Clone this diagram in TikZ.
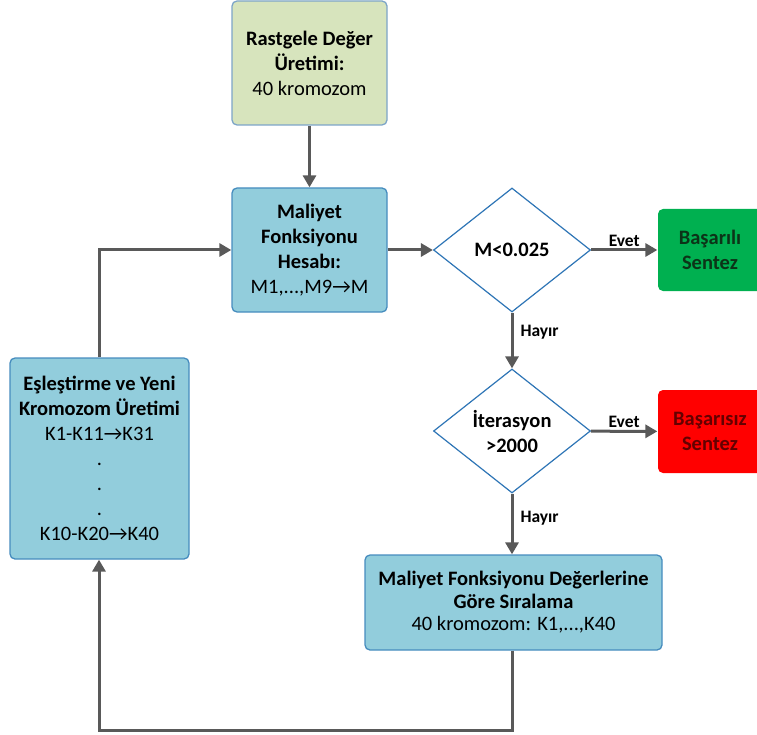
\documentclass[tikz,border=0pt]{standalone}
\usepackage{fontspec}
\setmainfont{Carlito}
\usetikzlibrary{shapes.geometric,arrows.meta}
\definecolor{greenfill}{RGB}{215,228,189}
\definecolor{greenline}{RGB}{125,165,200}
\definecolor{bluefill}{RGB}{146,205,220}
\definecolor{blueline}{RGB}{70,140,190}
\definecolor{decline}{RGB}{46,117,182}
\definecolor{arrowgray}{RGB}{89,89,89}
\definecolor{okfill}{RGB}{0,176,80}
\definecolor{oktext}{RGB}{12,52,24}
\definecolor{failfill}{RGB}{255,0,0}
\definecolor{failtext}{RGB}{100,0,0}
\begin{document}
\begin{tikzpicture}[x=1pt,y=-1pt,
    box/.style={rounded corners=5pt, line width=1.3pt, align=center, inner sep=0pt,
      font=\fontsize{20.5}{25}\selectfont},
    startbox/.style={box, fill=greenfill, draw=greenline},
    procbox/.style={box, fill=bluefill, draw=blueline},
    endbox/.style={box, font=\fontsize{20.5}{25}\selectfont\bfseries, minimum width=104pt},
    decision/.style={diamond, draw=decline, line width=1.2pt, fill=white, inner sep=0pt,
      minimum width=157pt, minimum height=124pt, aspect=1.27, align=center,
      font=\fontsize{20.5}{25}\selectfont\bfseries},
    flow/.style={draw=arrowgray, line width=3pt, -{Triangle[length=12pt,width=13pt]}},
    answer/.style={font=\fontsize{17.5}{20}\selectfont\bfseries, inner sep=2pt}]
\clip (0,0) rectangle (757,735);
\node [startbox, minimum width=155pt, minimum height=124pt] (rastgele) at (309.5,63)
  {\textbf{Rastgele Değer}\\\textbf{Üretimi:}\\40 kromozom};
\node [procbox, minimum width=155pt, minimum height=124pt] (maliyet) at (309.5,250)
  {\textbf{Maliyet}\\\textbf{Fonksiyonu}\\\textbf{Hesabı:}\\M1,...,M9→M};
\node [decision] (kosul) at (512,250) {M<0.025};
\node [decision] (iterasyon) at (512,431) {İterasyon\\>2000};
\node [endbox, fill=okfill, text=oktext, minimum height=82pt] (basarili) at (710,250)
  {Başarılı\\Sentez};
\node [endbox, fill=failfill, text=failtext, minimum height=83pt] (basarisiz) at (710,431.5)
  {Başarısız\\Sentez};
\node [procbox, minimum width=297pt, minimum height=95pt,
  font=\fontsize{20.5}{22.5}\selectfont] (siralama) at (513.5,602.5)
  {\textbf{Maliyet Fonksiyonu Değerlerine}\\\textbf{Göre Sıralama}\\40 kromozom: K1,...,K40};
\node [procbox, minimum width=179pt, minimum height=201pt] (eslestirme) at (99.5,458.5)
  {\textbf{Eşleştirme ve Yeni}\\\textbf{Kromozom Üretimi}\\K1-K11→K31\\.\\.\\.\\K10-K20→K40};
\coordinate (donus) at (99,730);
\draw [flow] (rastgele) -- (maliyet);
\draw [flow] (maliyet) -- (kosul);
\draw [flow] (kosul) -- node [answer, above] {Evet} (basarili);
\draw [flow] (kosul) -- node [answer, right, xshift=5pt, pos=0.35] {Hayır} (iterasyon);
\draw [flow] (iterasyon) -- node [answer, above] {Evet} (basarisiz);
\draw [flow] (iterasyon.south) -- node [answer, right, xshift=5pt, pos=0.4] {Hayır} (siralama.north -| iterasyon.south);
\draw [flow] (siralama.south -| iterasyon.south) |- (donus) -- (eslestirme.south -| donus);
\draw [flow] (eslestirme.north -| donus) |- (maliyet.west);
\end{tikzpicture}
\end{document}
